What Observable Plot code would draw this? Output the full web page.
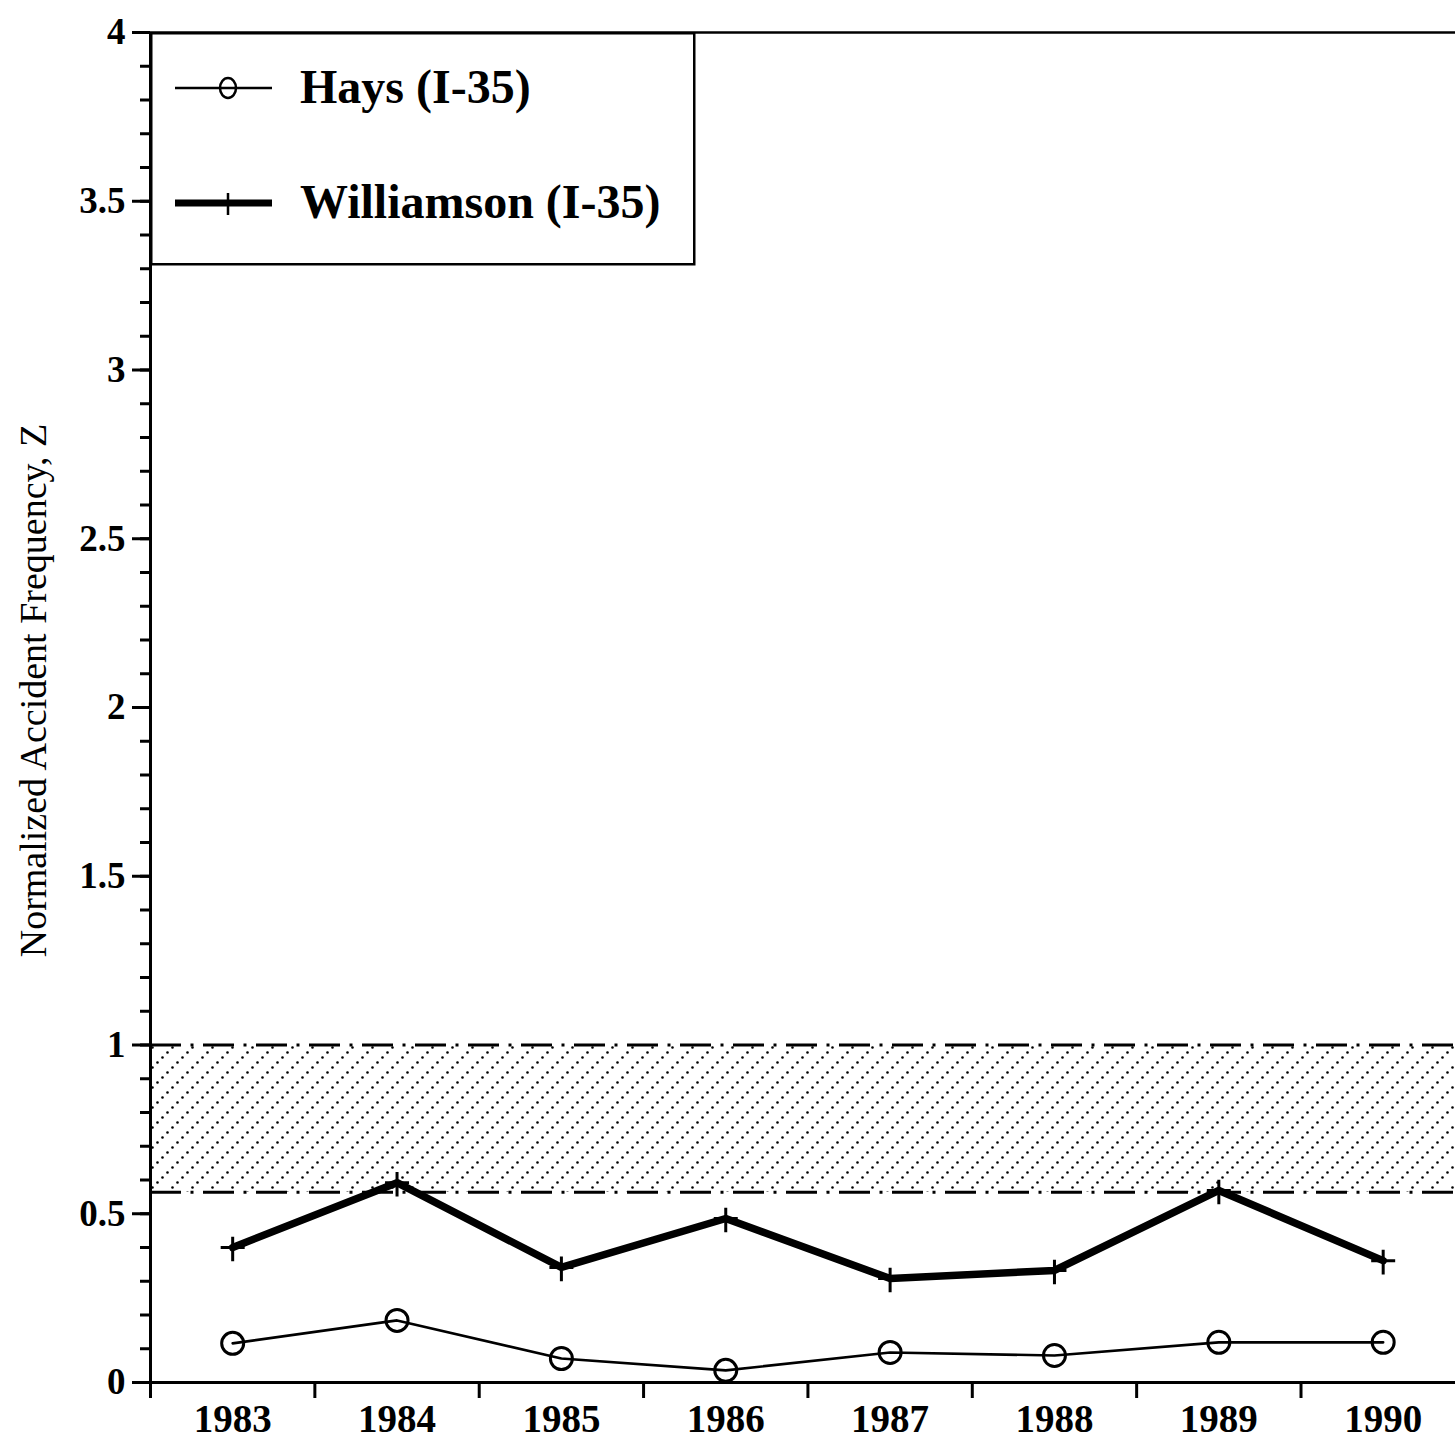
<!DOCTYPE html>
<html>
<head>
<meta charset="utf-8">
<script src="https://cdn.jsdelivr.net/npm/d3@7"></script>
<script src="https://cdn.jsdelivr.net/npm/@observablehq/plot@0.6"></script>
<style>
  body { margin: 0; background: #fff; }
  #wrap { position: relative; width: 1455px; height: 1439px; font-family: "Liberation Serif", "DejaVu Serif", serif; }
  #legend { position: absolute; left: 150px; top: 32px; }
</style>
</head>
<body>
<div id="wrap"></div>
<script>
// ---- data ----
const years = [1983, 1984, 1985, 1986, 1987, 1988, 1989, 1990];
const hays = [0.116, 0.184, 0.071, 0.036, 0.089, 0.080, 0.119, 0.119];
const williamson = [0.400, 0.592, 0.341, 0.486, 0.308, 0.332, 0.569, 0.361];
const seriesNames = ["Hays (I-35)", "Williamson (I-35)"];
const bandLow = [0.564];
const bandHigh = [1.0];
const yMajorTicks = [0, 0.5, 1, 1.5, 2, 2.5, 3, 3.5, 4];
const yMinorTicks = [0,0.1,0.2,0.3,0.4,0.5,0.6,0.7,0.8,0.9,1,1.1,1.2,1.3,1.4,1.5,1.6,1.7,1.8,1.9,2,2.1,2.2,2.3,2.4,2.5,2.6,2.7,2.8,2.9,3,3.1,3.2,3.3,3.4,3.5,3.6,3.7,3.8,3.9,4];
const xBoundaryTicks = [1982.5, 1983.5, 1984.5, 1985.5, 1986.5, 1987.5, 1988.5, 1989.5];
const yTitle = "Normalized Accident Frequency, Z";

const haysData = years.map((y, i) => ({year: y, value: hays[i]}));
const willData = years.map((y, i) => ({year: y, value: williamson[i]}));
const band = bandLow.map((lo, i) => ({lo, hi: bandHigh[i]}));

const plusSymbol = {
  draw(ctx, size) {
    const r = Math.sqrt(size / Math.PI);
    ctx.moveTo(-r, 0); ctx.lineTo(r, 0);
    ctx.moveTo(0, -r * 0.9); ctx.lineTo(0, r * 1.15);
  }
};

const font = "Liberation Serif";

const chart = Plot.plot({
  width: 1455,
  height: 1439,
  marginLeft: 150,
  marginRight: 0,
  marginTop: 32,
  marginBottom: 57,
  style: {fontFamily: font, background: "white", overflow: "visible"},
  x: {domain: [1982.5, 1990.44]},
  y: {domain: [0, 4]},
  marks: [
    // shaded band
    Plot.rectY(band, {y1: "lo", y2: "hi", fill: "url(#hatch)"}),
    Plot.ruleY(bandLow, {stroke: "black", strokeWidth: 3, strokeDasharray: "31 9.5 3 9.5"}),
    Plot.ruleY(bandHigh, {stroke: "black", strokeWidth: 3, strokeDasharray: "31 9.5 3 9.5"}),
    // y axis: minor ticks, major ticks + labels
    Plot.axisY({ticks: yMinorTicks, tickSize: 10, text: null, strokeWidth: 3, label: null}),
    Plot.axisY({ticks: yMajorTicks, tickSize: 18, tickPadding: 7, strokeWidth: 3,
      tickFormat: d => String(d), fontSize: 37, fontWeight: "bold", fontFamily: font, label: null}),
    // x axis: boundary ticks and centered labels
    Plot.axisX({ticks: xBoundaryTicks, tickSize: 16, text: null, strokeWidth: 3, label: null}),
    Plot.axisX({ticks: years, tickSize: 0, tickPadding: 22, tickFormat: d => String(d),
      fontSize: 39, fontWeight: "bold", fontFamily: font, label: null}),
    // frame lines
    Plot.ruleX([1982.5], {stroke: "black", strokeWidth: 3}),
    Plot.ruleY([0], {stroke: "black", strokeWidth: 3}),
    Plot.ruleY([4], {stroke: "black", strokeWidth: 2.5}),
    // y title
    Plot.text([yTitle], {frameAnchor: "left", rotate: -90, textAnchor: "middle", dx: -117, dy: -17,
      fontSize: 38, fontFamily: font, fill: "black"}),
    // series
    Plot.line(haysData, {x: "year", y: "value", stroke: "black", strokeWidth: 2.6}),
    Plot.dot(haysData, {x: "year", y: "value", r: 11, stroke: "black", strokeWidth: 3, fill: "none"}),
    Plot.line(willData, {x: "year", y: "value", stroke: "black", strokeWidth: 7.5, strokeLinejoin: "miter"}),
    Plot.dot(willData, {x: "year", y: "value", r: 12, symbol: plusSymbol, stroke: "black", strokeWidth: 3, fill: "none"})
  ]
});

// hatch pattern definition
const defs = d3.select(chart).insert("defs", ":first-child");
const pat = defs.append("pattern").attr("id", "hatch").attr("patternUnits", "userSpaceOnUse")
  .attr("width", 20).attr("height", 20);
pat.append("path").attr("d", "M0,20L20,0").attr("stroke", "black").attr("stroke-width", 2.7)
  .attr("stroke-linecap", "round").attr("stroke-dasharray", "0 7.071").attr("stroke-dashoffset", -3.535)
  .attr("fill", "none");

const wrap = document.getElementById("wrap");
wrap.appendChild(chart);

// legend (HTML-positioned SVG)
const lg = d3.select(wrap).append("svg").attr("id", "legend")
  .attr("width", 546).attr("height", 234);
lg.append("rect").attr("x", 1.25).attr("y", 1.25).attr("width", 543).attr("height", 231)
  .attr("fill", "white").attr("stroke", "black").attr("stroke-width", 2.5);
const rows = [
  {name: seriesNames[0], y: 56, sw: 2.5, mark: "circle"},
  {name: seriesNames[1], y: 171, sw: 7, mark: "plus"}
];
rows.forEach(r => {
  lg.append("line").attr("x1", 25).attr("x2", 122).attr("y1", r.y).attr("y2", r.y)
    .attr("stroke", "black").attr("stroke-width", r.sw);
  if (r.mark === "circle") {
    lg.append("ellipse").attr("cx", 78).attr("cy", r.y).attr("rx", 8).attr("ry", 10)
      .attr("fill", "none").attr("stroke", "black").attr("stroke-width", 2.5);
  } else {
    lg.append("path").attr("d", `M${78 - 9},${r.y}H${78 + 9}M78,${r.y - 10}V${r.y + 12}`)
      .attr("stroke", "black").attr("stroke-width", 2.5);
  }
  lg.append("text").attr("x", 150).attr("y", r.y + 15).text(r.name)
    .attr("font-family", font).attr("font-weight", "bold").attr("font-size", 48).attr("fill", "black");
});
</script>
</body>
</html>
